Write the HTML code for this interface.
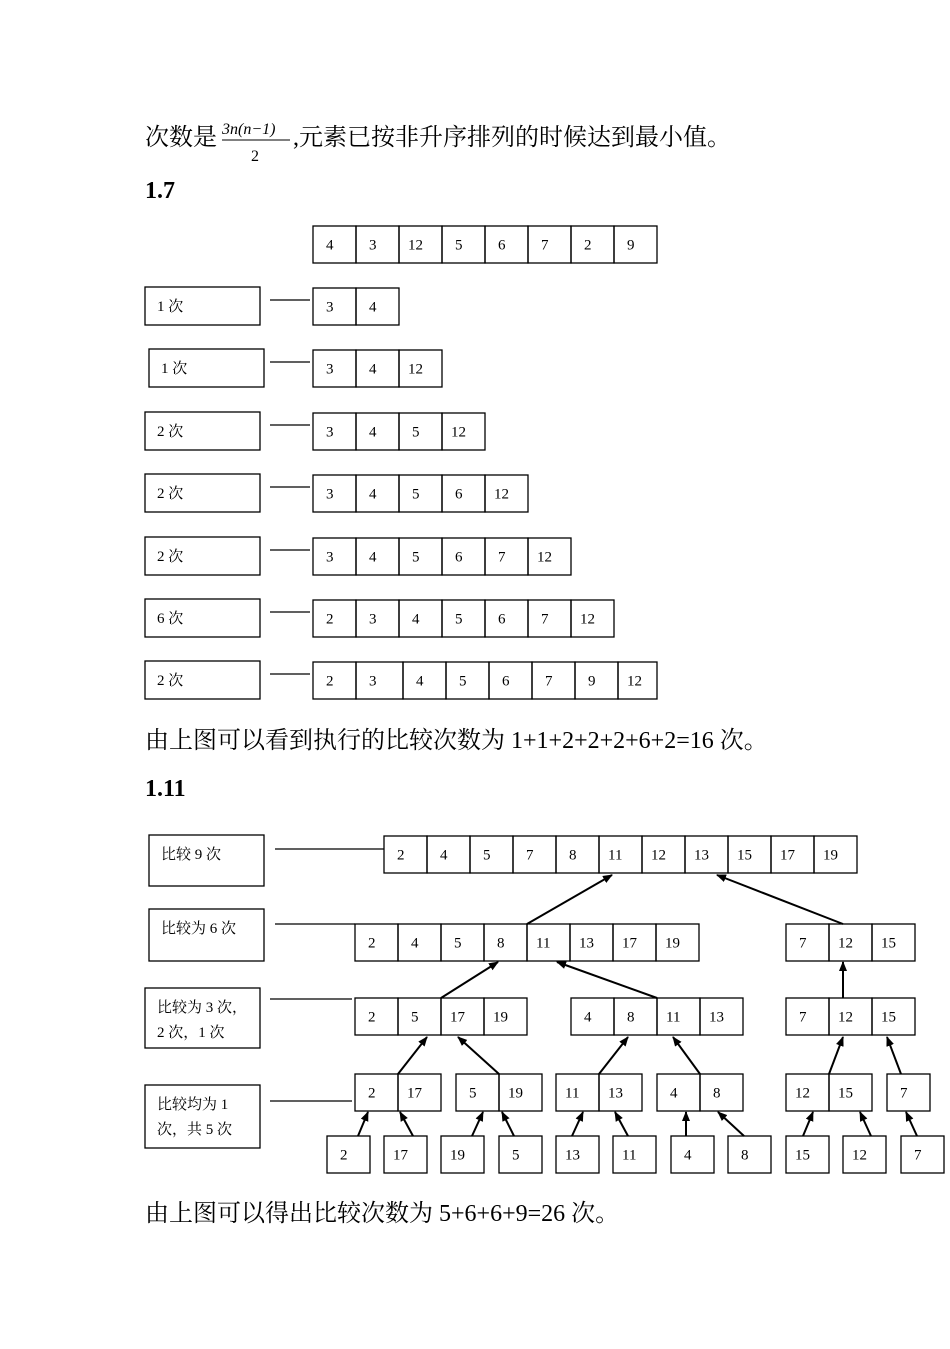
<!DOCTYPE html>
<html><head><meta charset="utf-8"><style>
body{margin:0;background:#fff}
svg text{font-family:"Liberation Serif","Noto Serif CJK SC",serif;fill:#000}
</style></head><body>
<svg width="950" height="1344" viewBox="0 0 950 1344" xmlns="http://www.w3.org/2000/svg">
<defs><marker id="a" markerWidth="10" markerHeight="10" refX="9" refY="5" orient="auto" markerUnits="userSpaceOnUse"><path d="M0,1 L10,5 L0,9 Z" fill="#000"/></marker></defs>
<g font-size="24">
<text x="145" y="145">次数是</text>
<text x="222" y="134" font-size="16" font-style="italic">3n(n−1)</text>
<line x1="222" y1="140" x2="290" y2="140" stroke="#000" stroke-width="1"/>
<text x="251" y="161" font-size="16">2</text>
<text x="293" y="145">,元素已按非升序排列的时候达到最小值。</text>
<text x="145" y="198" font-weight="bold">1.7</text>
<text x="145" y="748">由上图可以看到执行的比较次数为 1+1+2+2+2+6+2=16 次。</text>
<text x="145" y="796" font-weight="bold">1.11</text>
<text x="145" y="1221">由上图可以得出比较次数为 5+6+6+9=26 次。</text>
</g>
<g id="c" fill="none" stroke="#000" stroke-width="1.3" font-size="15"></g>
</svg>
<script>
var g=document.getElementById('c'),NS='http://www.w3.org/2000/svg';
function el(t,a,txt){var e=document.createElementNS(NS,t);for(var k in a)e.setAttribute(k,a[k]);if(txt!=null)e.textContent=txt;g.appendChild(e);return e;}
function row(xs,y,h,vals){for(var i=0;i<vals.length;i++){el('rect',{x:xs[i],y:y,width:xs[i+1]-xs[i],height:h});el('text',{x:xs[i]+(vals[i].length>1?9:13),y:y+h/2+5,stroke:'none'},vals[i]);}}
function seq(x0,n,w){var a=[];for(var i=0;i<=n;i++)a.push(x0+i*w);return a;}
function lab(x,y,w,h,lines){el('rect',{x:x,y:y,width:w,height:h});for(var i=0;i<lines.length;i++)el('text',{x:x+12,y:y+24+i*25,stroke:'none'},lines[i]);}
function ln(x1,y1,x2,y2){el('line',{x1:x1,y1:y1,x2:x2,y2:y2});}
function ar(x1,y1,x2,y2){el('line',{x1:x1,y1:y1,x2:x2,y2:y2,'marker-end':'url(#a)','stroke-width':2});}
// 1.7
row(seq(313,8,43),226,37,['4','3','12','5','6','7','2','9']);
var R=[[288,['3','4'],'1 次',145],[350,['3','4','12'],'1 次',149],[413,['3','4','5','12'],'2 次',145],[475,['3','4','5','6','12'],'2 次',145],[538,['3','4','5','6','7','12'],'2 次',145],[600,['2','3','4','5','6','7','12'],'6 次',145]];
R.forEach(function(r){row(seq(313,r[1].length,43),r[0],37,r[1]);lab(r[3],r[0]-1,115,38,[r[2]]);ln(270,r[0]+12,310,r[0]+12);});
row([313,356,403,446,489,532,575,618,657],662,37,['2','3','4','5','6','7','9','12']);lab(145,661,115,38,['2 次']);ln(270,674,310,674);
// 1.11
row(seq(384,11,43),836,37,['2','4','5','7','8','11','12','13','15','17','19']);
lab(149,835,115,51,['比较 9 次']);ln(275,849,384,849);
row(seq(355,8,43),924,37,['2','4','5','8','11','13','17','19']);
row(seq(786,3,43),924,37,['7','12','15']);
lab(149,909,115,52,['比较为 6 次']);ln(275,924,355,924);
row(seq(355,4,43),998,37,['2','5','17','19']);
row(seq(571,4,43),998,37,['4','8','11','13']);
row(seq(786,3,43),998,37,['7','12','15']);
lab(145,988,115,60,['比较为 3 次，','2 次，1 次']);ln(270,999,352,999);
row(seq(355,2,43),1074,37,['2','17']);row(seq(456,2,43),1074,37,['5','19']);
row(seq(556,2,43),1074,37,['11','13']);row(seq(657,2,43),1074,37,['4','8']);
row(seq(786,2,43),1074,37,['12','15']);row([887,930],1074,37,['7']);
lab(145,1085,115,63,['比较均为 1','次，共 5 次']);ln(270,1101,352,1101);
[[327,'2'],[384,'17'],[441,'19'],[499,'5'],[556,'13'],[613,'11'],[671,'4'],[728,'8'],[786,'15'],[843,'12'],[901,'7']].forEach(function(b){row([b[0],b[0]+43],1136,37,[b[1]]);});
ar(527,924,612,875);ar(843,924,717,875);
ar(441,998,498,962);ar(657,998,557,962);ar(843,998,843,962);
ar(398,1074,427,1037);ar(499,1074,458,1037);ar(599,1074,628,1037);ar(700,1074,673,1037);ar(829,1074,843,1037);ar(901,1074,887,1037);
[[358,368],[413,400],[472,483],[514,502],[572,583],[628,615],[686,686],[744,718],[803,813],[871,860],[917,906]].forEach(function(p){ar(p[0],1136,p[1],1112);});
</script>
</body></html>
